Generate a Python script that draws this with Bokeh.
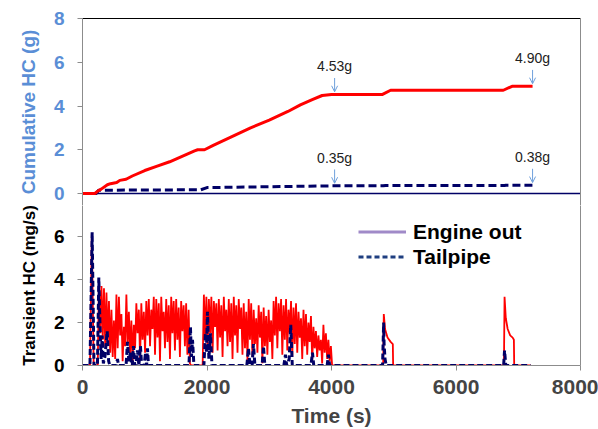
from bokeh.plotting import figure
from bokeh.layouts import column
from bokeh.models import (ColumnDataSource, Range1d, LinearAxis, FixedTicker, Span,
                          Arrow, OpenHead, Legend, LegendItem)
from bokeh.embed import file_html
from bokeh.resources import INLINE
from bokeh.core.properties import value

# ---------------- data ----------------
# cumulative HC (g)
cum_eo_t = [0, 200, 240, 300, 400, 450, 550, 600, 700, 800, 1000, 1200, 1400, 1600, 1800, 1850,
            1960, 2100, 2400, 2700, 3000, 3300, 3500, 3700, 3850, 4000, 4820, 4950, 6760, 6900, 7230]
cum_eo = [0, 0, 0.1, 0.2, 0.4, 0.45, 0.5, 0.6, 0.65, 0.8, 1.05, 1.25, 1.45, 1.7, 1.95, 2.0,
          2.0, 2.2, 2.6, 3.0, 3.35, 3.75, 4.05, 4.3, 4.48, 4.53, 4.53, 4.72, 4.72, 4.90, 4.90]
cum_tp_t = [0, 220, 260, 1000, 1900, 2000, 3000, 4000, 4830, 4870, 6780, 6800, 7230]
cum_tp = [0, 0, 0.15, 0.16, 0.17, 0.27, 0.31, 0.35, 0.35, 0.37, 0.37, 0.38, 0.38]

# transient HC (mg/s) - engine out
eo_points = [
    (0, 0), (120, 0), (150, 6.1), (180, 0), (245, 0), (265, 4.0), (285, 1.5), (305, 3.7),
    (325, 1.2), (345, 3.6), (365, 0.9), (385, 3.4), (405, 1.0), (425, 3.0), (445, 0.6),
    (465, 2.6), (485, 0.4), (505, 2.1), (525, 0.3), (545, 3.3), (565, 0.8), (585, 3.2),
    (605, 1.4), (625, 2.4), (645, 0.2), (665, 1.8), (685, 0.9), (705, 3.3), (725, 1.0),
    (745, 2.5), (765, 0.5), (785, 2.1), (805, 0.2), (825, 1.9), (845, 0.8), (865, 2.9),
    (885, 1.5), (905, 2.6), (925, 0.3), (945, 2.9), (965, 1.2), (985, 2.5), (1005, 0.6),
    (1025, 3.0), (1045, 1.4), (1065, 3.1), (1085, 0.9), (1105, 2.6), (1125, 1.7), (1145, 3.2),
    (1165, 0.5), (1185, 3.1), (1205, 1.3), (1225, 2.9), (1245, 0.2), (1265, 3.2), (1285, 1.6),
    (1305, 2.5), (1325, 0.8), (1345, 3.1), (1365, 1.1), (1385, 2.8), (1405, 0.3), (1425, 3.2),
    (1445, 1.5), (1465, 3.0), (1485, 0.7), (1505, 3.1), (1525, 1.2), (1545, 2.7), (1565, 0.4),
    (1585, 3.0), (1605, 1.6), (1625, 2.8), (1645, 0.9), (1665, 2.9), (1685, 0.5), (1705, 2.6),
    (1725, 0.1), (1745, 0), (1930, 0), (1950, 3.3), (1970, 1.2), (1990, 3.2), (2010, 0.8),
    (2030, 3.1), (2050, 1.5), (2070, 3.2), (2090, 0.6), (2110, 3.0), (2130, 1.8), (2150, 2.9),
    (2170, 0.7), (2190, 3.1), (2210, 1.3), (2230, 2.8), (2250, 0.4), (2270, 3.2), (2290, 1.6),
    (2310, 2.6), (2330, 0.9), (2350, 3.1), (2370, 1.1), (2390, 2.9), (2410, 0.3), (2430, 3.2),
    (2450, 1.4), (2470, 2.8), (2490, 0.6), (2510, 3.1), (2530, 1.7), (2550, 2.7), (2570, 0.5),
    (2590, 2.9), (2610, 0.8), (2630, 2.5), (2650, 0.2), (2670, 3.1), (2690, 1.2), (2710, 2.9),
    (2730, 0.4), (2750, 2.6), (2770, 1.0), (2790, 2.2), (2810, 0.6), (2830, 2.8), (2850, 1.3),
    (2870, 2.5), (2890, 0.1), (2910, 2.7), (2930, 0.9), (2950, 2.3), (2970, 0.5), (2990, 2.6),
    (3010, 1.1), (3030, 2.1), (3050, 0.3), (3070, 3.0), (3090, 1.4), (3110, 3.2), (3130, 0.8),
    (3150, 2.9), (3170, 1.6), (3190, 3.1), (3210, 0.5), (3230, 2.8), (3250, 1.2), (3270, 3.1),
    (3290, 0.7), (3310, 2.6), (3330, 1.5), (3350, 3.0), (3370, 0.4), (3390, 2.7), (3410, 1.0),
    (3430, 2.9), (3450, 0.6), (3470, 2.5), (3490, 1.3), (3510, 2.2), (3530, 0.3), (3550, 2.6),
    (3570, 0.9), (3590, 2.4), (3610, 0.5), (3630, 2.0), (3650, 1.1), (3670, 2.3), (3690, 0.2),
    (3710, 1.8), (3730, 0.8), (3750, 1.6), (3770, 0.4), (3790, 1.4), (3810, 0.7), (3830, 1.2),
    (3850, 0.1), (3870, 1.9), (3890, 0.6), (3910, 1.5), (3930, 0.3), (3950, 1.2), (3970, 0.2),
    (3990, 0.9), (4010, 0), (4830, 0), (4840, 2.4), (4860, 1.7), (4900, 1.3), (4950, 1.1),
    (4985, 1.0), (4990, 0), (6770, 0), (6780, 3.2), (6800, 2.2), (6830, 1.7), (6870, 1.4),
    (6910, 1.3), (6930, 1.2), (6935, 0), (7200, 0),
]
# transient HC (mg/s) - tailpipe
tp_points = [
    (0, 0), (120, 0), (155, 6.2), (185, 0), (240, 0), (262, 4.1), (280, 2.0), (300, 0.3),
    (316, 1.4), (335, 0.1), (360, 0.4), (397, 1.6), (420, 0.2), (440, 0), (540, 0), (562, 0.3),
    (580, 0), (700, 0), (723, 1.1), (745, 0.2), (771, 0.6), (790, 0), (800, 0), (819, 0.9),
    (840, 0), (860, 0), (883, 0.7), (905, 0), (931, 0.9), (950, 0), (990, 0), (1012, 0.6),
    (1030, 0), (1044, 0.8), (1060, 0), (1710, 0), (1734, 1.8), (1750, 0.4), (1767, 1.2),
    (1790, 0), (1950, 0), (1975, 1.5), (1990, 0.6), (2008, 2.5), (2030, 0.3), (2056, 1.5),
    (2080, 0), (2640, 0), (2666, 0.8), (2690, 0), (2725, 0), (2746, 1.0), (2770, 0),
    (2885, 0), (2907, 0.9), (2930, 0), (3235, 0), (3260, 0.5), (3280, 0), (3320, 0.3),
    (3345, 1.9), (3370, 0), (3670, 0), (3694, 0.6), (3715, 0), (3930, 0), (3951, 0.5),
    (3970, 0), (4820, 0), (4838, 2.0), (4845, 1.0), (4860, 0.3), (4880, 0), (6765, 0),
    (6780, 0.7), (6800, 0), (7200, 0),
]
eo_t = [p[0] for p in eo_points]
eo_v = [p[1] for p in eo_points]
tp_t = [p[0] for p in tp_points]
tp_v = [p[1] for p in tp_points]

# annotations
mark_t = [4050, 7230]
mark_eo = [4.53, 4.90]
mark_tp = [0.35, 0.38]

x_ticks = [0, 2000, 4000, 6000, 8000]
cum_ticks = [0, 2, 4, 6, 8]
tr_ticks = [0, 2, 4, 6]

# ---------------- layout / style ----------------
FONT = "Liberation Sans"
RED = "#FF0000"
NAVY = "#000066"
BLUE = "#5A8ED6"
GRAY = "#8C8C8C"
ARROW = "#6FA0DC"
W, LEFT, RIGHT = 598, 82, 18
TOP_BORDER, BOTTOM_BORDER = 18, 61
PX_PER_UNIT = 175 / 8.0          # both panels use the same vertical scale
TOP_H = 205                      # top canvas reaches a few px below its zero line
BOT_H = 429 - TOP_H
top_frame = TOP_H - TOP_BORDER
bot_frame = BOT_H - BOTTOM_BORDER
top_lo = 8 - top_frame / PX_PER_UNIT      # small negative margin so "0" label is not cut
bot_hi = bot_frame / PX_PER_UNIT


def style_left(ax, color, label_size):
    ax.axis_line_color = GRAY
    ax.major_tick_line_color = GRAY
    ax.major_tick_out = 5
    ax.major_tick_in = 0
    ax.minor_tick_line_color = None
    ax.major_label_text_font = FONT
    ax.major_label_text_font_style = "bold"
    ax.major_label_text_font_size = "19px"
    ax.major_label_text_color = color
    ax.major_label_standoff = 13
    ax.axis_label_text_font = FONT
    ax.axis_label_text_font_style = "bold"
    ax.axis_label_text_font_size = label_size
    ax.axis_label_text_color = color
    ax.axis_label_standoff = 12


def plain_axis(color):
    ax = LinearAxis(ticker=FixedTicker(ticks=[]))
    ax.axis_line_color = color
    ax.major_tick_line_color = None
    ax.minor_tick_line_color = None
    ax.major_label_text_font_size = "0px"
    return ax


# ---------------- top panel ----------------
top = figure(width=W, height=TOP_H, output_backend="svg", toolbar_location=None,
             x_range=Range1d(0, 8000), y_range=Range1d(top_lo, 8),
             min_border_left=LEFT, min_border_right=RIGHT, min_border_top=TOP_BORDER,
             min_border_bottom=0, x_axis_location=None, y_axis_location=None)
top.outline_line_color = None
top.grid.visible = False

yl = LinearAxis(ticker=FixedTicker(ticks=cum_ticks), axis_label="Cumulative HC (g)")
style_left(yl, BLUE, "19px")
top.add_layout(yl, "left")
top.add_layout(plain_axis(GRAY), "right")
top.add_layout(plain_axis("black"), "above")

top.add_layout(Span(location=0, dimension="width", line_color=NAVY, line_width=1.5,
                    level="underlay"))

top.line(cum_tp_t, cum_tp, line_color=NAVY, line_width=3, line_dash="8 4")
top.line(cum_eo_t, cum_eo, line_color=RED, line_width=3)

src_ann = ColumnDataSource(dict(
    x=mark_t + mark_t,
    v=mark_eo + mark_tp,
    lab=["%.2fg" % v for v in mark_eo + mark_tp],
))
src_ann.data["ys"] = [v + 0.75 for v in src_ann.data["v"]]
src_ann.data["ye"] = [v + 0.12 for v in src_ann.data["v"]]
src_ann.data["yt"] = [v + 0.92 for v in src_ann.data["v"]]
top.add_layout(Arrow(end=OpenHead(size=6, line_color=ARROW, line_width=1),
                     x_start="x", y_start="ys", x_end="x", y_end="ye",
                     line_color=ARROW, line_width=1, source=src_ann))
top.text(x="x", y="yt", text="lab", source=src_ann, text_font=value(FONT),
         text_font_size="14px", text_color="#222222", text_align="center",
         text_baseline="bottom")

# ---------------- bottom panel ----------------
bot = figure(width=W, height=BOT_H, output_backend="svg", toolbar_location=None,
             x_range=top.x_range, y_range=Range1d(0, bot_hi),
             min_border_left=LEFT, min_border_right=RIGHT, min_border_top=0,
             min_border_bottom=BOTTOM_BORDER, x_axis_location=None, y_axis_location=None)
bot.outline_line_color = None
bot.grid.visible = False

by = LinearAxis(ticker=FixedTicker(ticks=tr_ticks), axis_label="Transient HC (mg/s)")
style_left(by, "black", "17px")
bot.add_layout(by, "left")
bot.add_layout(plain_axis(GRAY), "right")

bx = LinearAxis(ticker=FixedTicker(ticks=x_ticks), axis_label="Time (s)")
bx.axis_line_color = GRAY
bx.major_tick_line_color = GRAY
bx.major_tick_out = 5
bx.major_tick_in = 0
bx.minor_tick_line_color = None
bx.major_label_text_font = FONT
bx.major_label_text_font_style = "bold"
bx.major_label_text_font_size = "21px"
bx.major_label_standoff = 9
bx.axis_label_text_font = FONT
bx.axis_label_text_font_style = "bold"
bx.axis_label_text_font_size = "21px"
bx.axis_label_standoff = 7
bot.add_layout(bx, "below")

bot.line(eo_t, eo_v, line_color=RED, line_width=1.8)
bot.line(tp_t, tp_v, line_color=NAVY, line_width=3, line_dash="6 3")

nan = float("nan")
leg_eo = bot.line([nan], [nan], line_color="#A08AC8", line_width=3)
leg_tp = bot.line([nan], [nan], line_color="#1F3F80", line_width=3, line_dash="5 3")
legend = Legend(items=[LegendItem(label="Engine out", renderers=[leg_eo]),
                       LegendItem(label="Tailpipe", renderers=[leg_tp])],
                location=(276, 96), orientation="vertical")
legend.border_line_color = None
legend.background_fill_alpha = 0
legend.padding = 0
legend.margin = 0
legend.spacing = 0
legend.glyph_width = 48
legend.glyph_height = 25
legend.label_height = 25
legend.label_standoff = 7
legend.label_text_font = FONT
legend.label_text_font_style = "bold"
legend.label_text_font_size = "21px"
legend.label_text_color = "black"
bot.add_layout(legend, "center")

layout = column(top, bot, spacing=0)
open("out.html", "w").write(file_html(layout, INLINE))
